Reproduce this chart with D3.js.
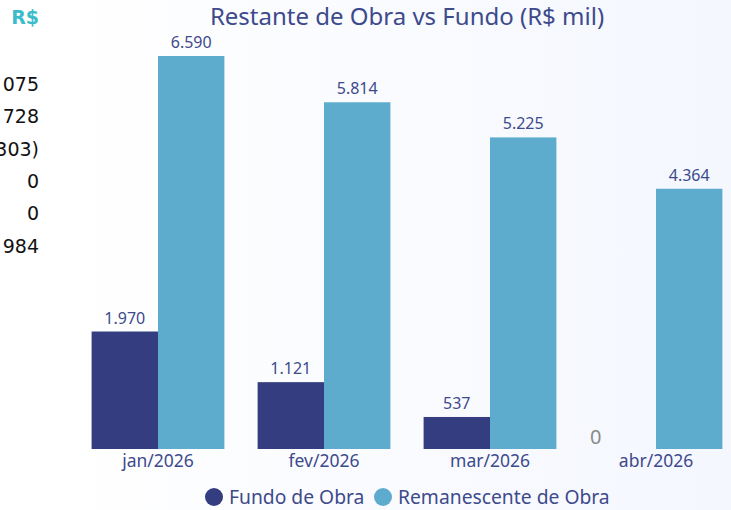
<!DOCTYPE html>
<html>
<head>
<meta charset="utf-8">
<script src="https://cdn.jsdelivr.net/npm/d3@7"></script>
<style>
  html, body { margin: 0; padding: 0; background: #fff; }
  svg { display: block; }
</style>
</head>
<body>
<svg width="731" height="510"></svg>
<script>
var months = ["jan/2026", "fev/2026", "mar/2026", "abr/2026"];
var seriesNames = ["Fundo de Obra", "Remanescente de Obra"];
var fundo = [1970, 1121, 537, 0];
var remanescente = [6590, 5814, 5225, 4364];
var sideLabels = ["075", "728", "303)", "0", "0", "984"];

var svg = d3.select("svg"),
    width = +svg.attr("width"),
    height = +svg.attr("height");

var colors = ["#343d80", "#5dacce"];
var textColor = "#3d4a8c";

// background gradient
var defs = svg.append("defs");
var grad = defs.append("linearGradient").attr("id", "bg")
    .attr("x1", "0%").attr("x2", "100%").attr("y1", "0%").attr("y2", "0%");
grad.append("stop").attr("offset", "0%").attr("stop-color", "#ffffff");
grad.append("stop").attr("offset", "100%").attr("stop-color", "#f4f7fe");

svg.append("rect").attr("x", 50).attr("y", 0)
    .attr("width", width - 50).attr("height", height)
    .attr("fill", "url(#bg)");

// fragments of neighbouring visual on the left
svg.append("text")
    .attr("x", 39).attr("y", 24)
    .attr("text-anchor", "end")
    .attr("font-family", "DejaVu Sans")
    .attr("font-weight", "bold")
    .attr("font-size", 19)
    .attr("fill", "#3cbccb")
    .text("R$");

svg.append("g").selectAll("text")
  .data(sideLabels)
  .enter().append("text")
    .attr("x", 39)
    .attr("y", function(d, i) { return 91 + i * 32.3; })
    .attr("text-anchor", "end")
    .attr("font-family", "DejaVu Sans")
    .attr("font-size", 19)
    .attr("fill", "#111")
    .text(function(d) { return d; });

// title
svg.append("text")
    .attr("x", 407).attr("y", 25)
    .attr("text-anchor", "middle")
    .attr("font-family", "Noto Sans")
    .attr("font-size", 24)
    .attr("fill", textColor)
    .text("Restante de Obra vs Fundo (R$ mil)");

var data = months.map(function(m, i) {
  return { month: m, values: [fundo[i], remanescente[i]] };
});

var x0 = d3.scaleBand()
    .domain(months)
    .range([75, 739])
    .paddingInner(0.2)
    .paddingOuter(0.1);

var x1 = d3.scaleBand()
    .domain([0, 1])
    .range([0, x0.bandwidth()]);

var y = d3.scaleLinear()
    .domain([0, 6590])
    .range([449, 56]);

var fmt = function(v) { return d3.format(",")(v).replace(/,/g, "."); };

var groups = svg.append("g").selectAll("g")
  .data(data)
  .enter().append("g")
    .attr("transform", function(d) { return "translate(" + x0(d.month) + ",0)"; });

groups.selectAll("rect")
  .data(function(d) { return d.values.map(function(v, i) { return { i: i, v: v }; }); })
  .enter().append("rect")
    .attr("x", function(d) { return x1(d.i); })
    .attr("width", x1.bandwidth())
    .attr("y", function(d) { return y(d.v); })
    .attr("height", function(d) { return y(0) - y(d.v); })
    .attr("fill", function(d) { return colors[d.i]; });

groups.selectAll("text.val")
  .data(function(d) { return d.values.map(function(v, i) { return { i: i, v: v }; }); })
  .enter().append("text")
    .attr("class", "val")
    .attr("x", function(d) { return x1(d.i) + x1.bandwidth() / 2 - (d.v === 0 ? 27 : 0); })
    .attr("y", function(d) { return d.v === 0 ? y(0) - 5 : y(d.v) - 8; })
    .attr("text-anchor", "middle")
    .attr("font-family", "Noto Sans")
    .attr("font-size", function(d) { return d.v === 0 ? 20 : 16; })
    .attr("fill", function(d) { return d.v === 0 ? "#8a8a8a" : textColor; })
    .text(function(d) { return fmt(d.v); });

// x axis
var xAxis = svg.append("g")
    .attr("transform", "translate(0,449)")
    .call(d3.axisBottom(x0).tickSize(0).tickPadding(6));
xAxis.select(".domain").remove();
xAxis.selectAll("text")
    .attr("font-family", "Noto Sans")
    .attr("font-size", 17.5)
    .attr("fill", textColor);

// legend
var legendX = [214, 383];
var legend = svg.append("g").selectAll("g")
  .data(seriesNames)
  .enter().append("g")
    .attr("transform", function(d, i) { return "translate(" + legendX[i] + ",497)"; });

legend.append("circle")
    .attr("r", 9)
    .attr("fill", function(d, i) { return colors[i]; });

legend.append("text")
    .attr("x", 15)
    .attr("dy", "0.35em")
    .attr("font-family", "Noto Sans")
    .attr("font-size", 19.3)
    .attr("fill", textColor)
    .text(function(d) { return d; });
</script>
</body>
</html>
